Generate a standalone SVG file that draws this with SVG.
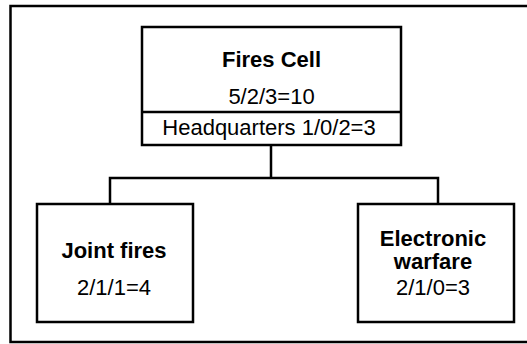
<svg xmlns="http://www.w3.org/2000/svg" width="527" height="344" viewBox="0 0 527 344">
<style>
.box{fill:#fff;stroke:#000;stroke-width:2.5}
.ln{fill:none;stroke:#000;stroke-width:2.5}
.b{font-family:"Liberation Sans",Arial,sans-serif;font-weight:bold;font-size:22px;text-anchor:middle;fill:#000}
.r{font-family:"Liberation Sans",Arial,sans-serif;font-size:22px;text-anchor:middle;fill:#000}
</style>
<rect width="527" height="344" fill="#fff"/>
<g id="frame"><rect x="10.5" y="6" width="530" height="336" class="ln"/></g>
<g id="connectors">
<path class="ln" d="M271 145V178M110 204V178H438V204"/>
</g>
<g id="fires-cell">
<rect x="142" y="27" width="259" height="118" class="box"/>
<line x1="142" y1="112" x2="401" y2="112" class="ln"/>
<text x="271.5" y="67" class="b">Fires Cell</text>
<text x="271.5" y="104" class="r">5/2/3=10</text>
<text x="269" y="135" class="r">Headquarters 1/0/2=3</text>
</g>
<g id="joint-fires">
<rect x="37" y="204" width="156" height="118" class="box"/>
<text x="114" y="258" class="b">Joint fires</text>
<text x="114" y="295" class="r">2/1/1=4</text>
</g>
<g id="electronic-warfare">
<rect x="358" y="204" width="156" height="118" class="box"/>
<text x="433" y="246" class="b">Electronic</text>
<text x="433" y="269" class="b">warfare</text>
<text x="433" y="295" class="r">2/1/0=3</text>
</g>
</svg>
